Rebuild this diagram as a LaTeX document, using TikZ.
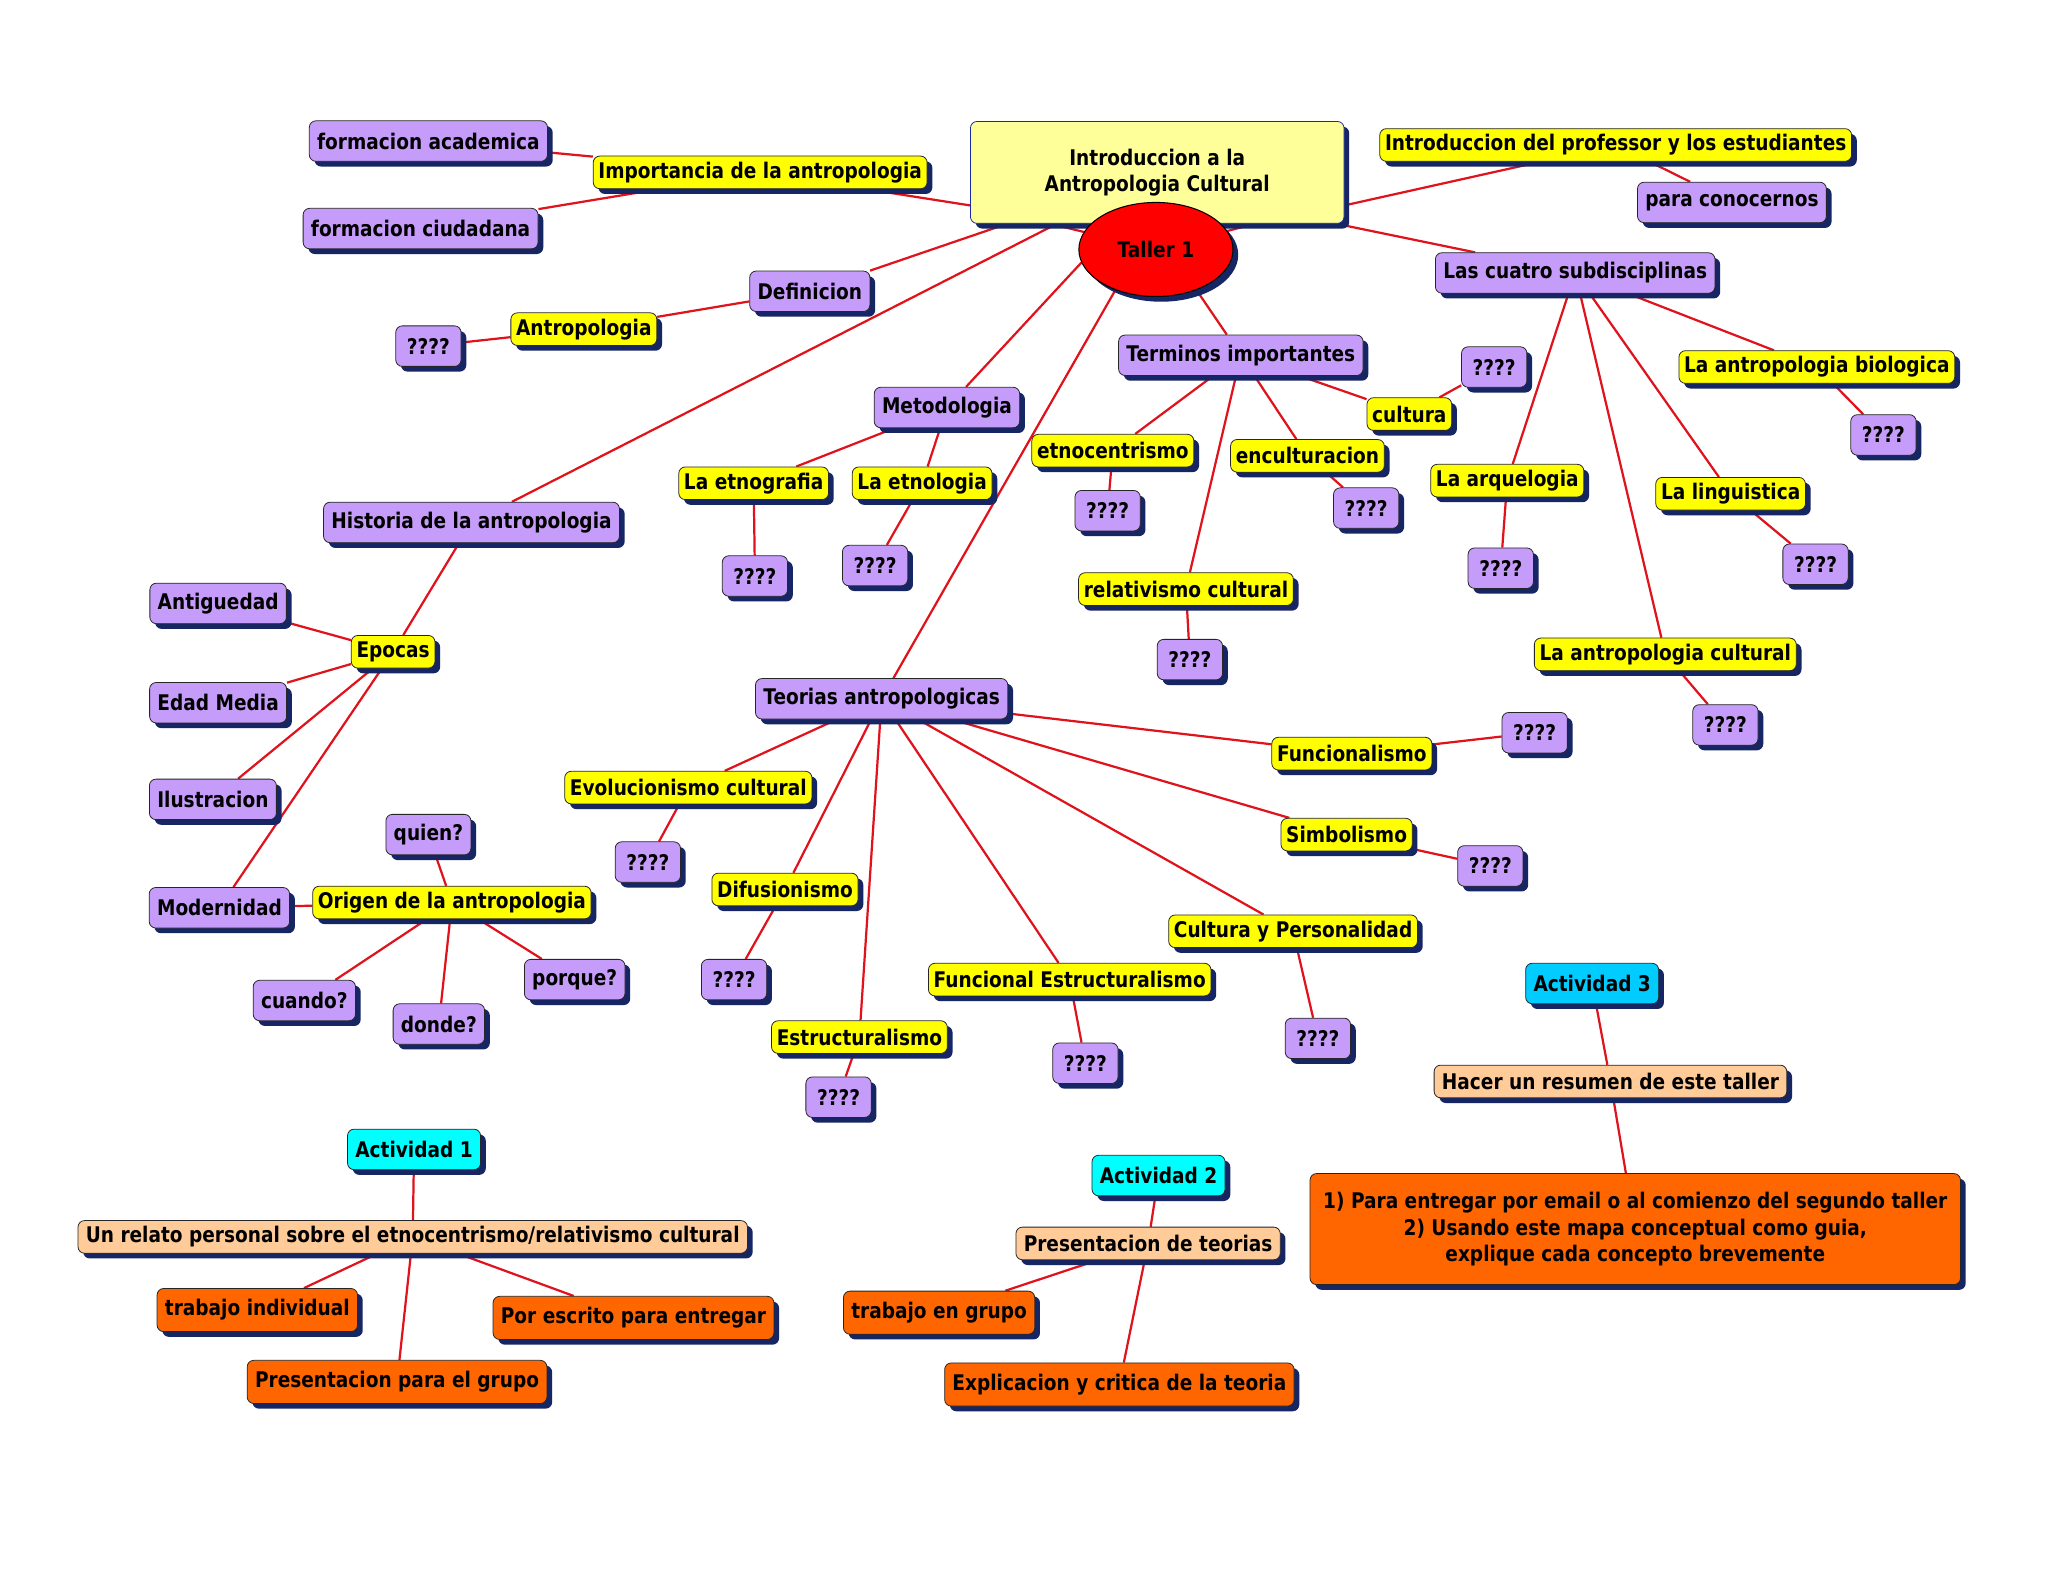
\documentclass[tikz,border=0pt]{standalone}
\usepackage{fontspec}
\setmainfont{DejaVu Sans}[FakeStretch=0.86]
\usetikzlibrary{shadows,backgrounds,shapes.geometric}
\definecolor{mapviolet}{RGB}{198,156,250}
\definecolor{mapyellow}{RGB}{255,255,0}
\definecolor{mappale}{RGB}{255,255,153}
\definecolor{mapred}{RGB}{224,18,28}
\definecolor{mapcyan}{RGB}{0,255,255}
\definecolor{mapsky}{RGB}{0,204,255}
\definecolor{mappeach}{RGB}{255,204,153}
\definecolor{maporange}{RGB}{255,102,0}
\definecolor{mapshadow}{RGB}{22,38,100}
\definecolor{mapblue}{RGB}{30,40,160}

\begin{document}
\begin{tikzpicture}[x=1pt,y=-1pt,font=\bfseries\fontsize{16.5}{20}\selectfont,
    mapnode/.style={draw=black!85,line width=0.6pt,rounded corners=5pt,align=center,inner xsep=6pt,inner ysep=2pt,
      drop shadow={shadow xshift=4pt,shadow yshift=-4pt,fill=mapshadow,opacity=1}},
    pbox/.style={mapnode,fill=mapviolet,minimum height=31pt},
    ybox/.style={mapnode,fill=mapyellow,minimum height=25pt,inner xsep=4pt},
    cbox/.style={mapnode,fill=mapcyan,minimum height=31pt},
    tbox/.style={mapnode,fill=mappeach,minimum height=25pt},
    obox/.style={mapnode,fill=maporange,minimum height=33pt},
    qbox/.style={pbox,minimum width=50pt},
    link/.style={draw=mapred,line width=1.7pt}]
  \useasboundingbox (0,0) rectangle (1568,1211);

  % centre
  \node[mapnode,draw=mapblue,fill=mappale,minimum width=286pt,minimum height=78pt] (title) at (886,132) {Introduccion a la\\Antropologia Cultural};
  \node[ellipse,draw=black,line width=0.8pt,fill=red,minimum width=118pt,minimum height=72pt,
    drop shadow={shadow xshift=4pt,shadow yshift=-4pt,fill=mapshadow,opacity=1}] (taller) at (885,191) {Taller 1};

  % importancia / definicion
  \node[ybox] (import) at (582,132) {Importancia de la antropologia};
  \node[pbox] (facad) at (328,108) {formacion academica};
  \node[pbox] (fciud) at (322,175) {formacion ciudadana};
  \node[pbox] (defin) at (620,223) {Definicion};
  \node[ybox] (antro) at (447,252) {Antropologia};
  \node[qbox] (antroq) at (328,265) {????};

  % historia
  \node[pbox] (hist) at (361,400) {Historia de la antropologia};
  \node[ybox] (epocas) at (301,499) {Epocas};
  \node[pbox] (antig) at (167,462) {Antiguedad};
  \node[pbox] (edad) at (167,538) {Edad Media};
  \node[pbox] (ilus) at (163,612) {Ilustracion};
  \node[pbox] (modern) at (168,695) {Modernidad};
  \node[ybox] (origen) at (346,691) {Origen de la antropologia};
  \node[pbox] (quien) at (328,639) {quien?};
  \node[pbox] (cuando) at (233,766) {cuando?};
  \node[pbox] (donde) at (336,784) {donde?};
  \node[pbox] (porque) at (440,750) {porque?};

  % metodologia
  \node[pbox] (metodo) at (725,312) {Metodologia};
  \node[ybox] (etnog) at (577,370) {La etnografia};
  \node[qbox] (etnogq) at (578,441) {????};
  \node[ybox] (etnol) at (706,370) {La etnologia};
  \node[qbox] (etnolq) at (670,433) {????};

  % terminos
  \node[pbox] (terminos) at (950,272) {Terminos importantes};
  \node[ybox] (etno) at (852,345) {etnocentrismo};
  \node[qbox] (etnoq) at (848,391) {????};
  \node[ybox] (encul) at (1001,349) {enculturacion};
  \node[qbox] (enculq) at (1046,389) {????};
  \node[ybox] (relat) at (908,451) {relativismo cultural};
  \node[qbox] (relatq) at (911,505) {????};
  \node[ybox] (cultura) at (1079,317) {cultura};
  \node[qbox] (culturaq) at (1144,281) {????};

  % presentacion / subdisciplinas
  \node[ybox] (intro) at (1237,111) {Introduccion del professor y los estudiantes};
  \node[pbox] (conocer) at (1326,155) {para conocernos};
  \node[pbox] (cuatro) at (1206,209) {Las cuatro subdisciplinas};
  \node[ybox] (bio) at (1391,281) {La antropologia biologica};
  \node[qbox] (bioq) at (1442,333) {????};
  \node[ybox] (ling) at (1325,378) {La linguistica};
  \node[qbox] (lingq) at (1390,432) {????};
  \node[ybox] (arq) at (1154,368) {La arquelogia};
  \node[qbox] (arqq) at (1149,435) {????};
  \node[ybox] (cult) at (1275,501) {La antropologia cultural};
  \node[qbox] (cultq) at (1321,555) {????};

  % teorias
  \node[pbox] (teorias) at (675,535) {Teorias antropologicas};
  \node[ybox] (evol) at (527,603) {Evolucionismo cultural};
  \node[qbox] (evolq) at (496,660) {????};
  \node[ybox] (difus) at (601,681) {Difusionismo};
  \node[qbox] (difusq) at (562,750) {????};
  \node[ybox] (estruc) at (658,794) {Estructuralismo};
  \node[qbox] (estrucq) at (642,840) {????};
  \node[ybox] (funest) at (819,750) {Funcional Estructuralismo};
  \node[qbox] (funestq) at (831,814) {????};
  \node[ybox] (cyp) at (990,713) {Cultura y Personalidad};
  \node[qbox] (cypq) at (1009,795) {????};
  \node[ybox] (simb) at (1031,639) {Simbolismo};
  \node[qbox] (simbq) at (1141,663) {????};
  \node[ybox] (funcion) at (1035,577) {Funcionalismo};
  \node[qbox] (funcionq) at (1175,561) {????};

  % actividades
  \node[mapnode,fill=mapsky,minimum height=31pt] (act3) at (1219,753) {Actividad 3};
  \node[tbox] (hacer) at (1233,828) {Hacer un resumen de este taller};
  \node[obox,minimum width=498pt,minimum height=85pt] (tarea) at (1252,941) {1) Para entregar por email o al comienzo del segundo taller\\2) Usando este mapa conceptual como guia,\\explique cada concepto brevemente};
  \node[cbox] (act1) at (317,880) {Actividad 1};
  \node[tbox] (relato) at (316,947) {Un relato personal sobre el etnocentrismo/relativismo cultural};
  \node[obox] (indiv) at (197,1003) {trabajo individual};
  \node[obox] (pgrupo) at (304,1058) {Presentacion para el grupo};
  \node[obox] (escrito) at (485,1009) {Por escrito para entregar};
  \node[cbox] (act2) at (887,900) {Actividad 2};
  \node[tbox] (presteo) at (879,952) {Presentacion de teorias};
  \node[obox] (tgrupo) at (719,1005) {trabajo en grupo};
  \node[obox] (explic) at (857,1060) {Explicacion y critica de la teoria};

  \begin{scope}[on background layer]
    \fill[white] (0,0) rectangle (1568,1211);
    \draw[link] (import) -- (title.190);
    \draw[link] (import) -- (facad);
    \draw[link] (import) -- (fciud);
    \draw[link] (defin) -- (title);
    \draw[link] (defin) -- (antro) -- (antroq);
    \draw[link] (hist) -- (title);
    \draw[link] ([xshift=-82pt]title.south) -- (taller);
    \draw[link] ([xshift=75pt]title.south) -- (taller);
    \draw[link] (title.-10) -- (intro) -- (conocer);
    \draw[link] (title.-16) -- (cuatro);
    \draw[link] (taller.190) -- (metodo);
    \draw[link] (taller.225) -- (teorias);
    \draw[link] (taller.-45) -- (terminos);
    % historia
    \draw[link] (hist) -- (epocas);
    \foreach \n in {antig,edad,ilus,modern} \draw[link] (epocas) -- (\n);
    \draw[link] (modern) -- (origen);
    \foreach \n in {quien,cuando,donde,porque} \draw[link] (origen) -- (\n);
    % metodologia
    \draw[link] (metodo) -- (etnog) -- (etnogq);
    \draw[link] (metodo) -- (etnol) -- (etnolq);
    % terminos
    \draw[link] (terminos) -- (etno) -- (etnoq);
    \draw[link] (terminos) -- (encul) -- (enculq);
    \draw[link] (terminos) -- (relat) -- (relatq);
    \draw[link] (terminos) -- (cultura) -- (culturaq);
    % subdisciplinas
    \draw[link] (cuatro) -- (bio) -- (bioq);
    \draw[link] (cuatro) -- (ling) -- (lingq);
    \draw[link] (cuatro) -- (arq) -- (arqq);
    \draw[link] (cuatro) -- (cult) -- (cultq);
    % teorias
    \foreach \n/\q in {evol/evolq,difus/difusq,estruc/estrucq,funest/funestq,cyp/cypq,simb/simbq,funcion/funcionq}
      \draw[link] (teorias) -- (\n) -- (\q);
    % actividades
    \draw[link] (act3) -- (hacer) -- (tarea);
    \draw[link] (act1) -- (relato);
    \foreach \n in {indiv,pgrupo,escrito} \draw[link] (relato) -- (\n);
    \draw[link] (act2) -- (presteo);
    \draw[link] (presteo) -- (tgrupo);
    \draw[link] (presteo) -- (explic);
  \end{scope}
\end{tikzpicture}
\end{document}
